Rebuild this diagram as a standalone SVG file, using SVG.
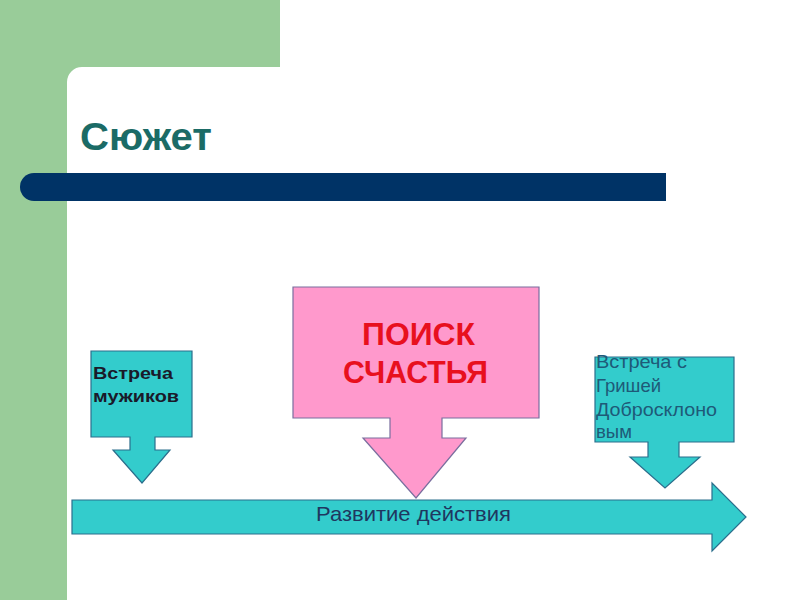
<svg xmlns="http://www.w3.org/2000/svg" width="800" height="600" viewBox="0 0 800 600">
<style>
.teal{fill:#33CCCC;stroke:#2B6E8C;stroke-width:1.2}
.pink{fill:#FF99CC;stroke:#7A6E9E;stroke-width:1.2}
.t{font-family:"Liberation Sans",Arial,sans-serif}
</style>
<rect width="800" height="600" fill="#fff"/>
<g id="background">
<path d="M0 0H280V67H82A15 15 0 0 0 67 82V600H0Z" fill="#99CC99"/>
<path d="M34 173H666V201H34A14 14 0 0 1 34 173Z" fill="#003366"/>
</g>
<g id="title"><text class="t" x="80" y="150" font-size="39" font-weight="bold" fill="#1B6B66" textLength="132" lengthAdjust="spacingAndGlyphs">Сюжет</text></g>
<g id="timeline">
<path class="teal" d="M72 500H712V483L746 517L712 551V534H72Z"/>
<text class="t" x="316" y="521" font-size="21" fill="#1F3760" textLength="195" lengthAdjust="spacingAndGlyphs">Развитие действия</text>
</g>
<g id="node-vstrecha">
<path class="teal" d="M91 351H192V437H155V450H170L142 483L113 450H130V437H91Z"/>
<text class="t" x="93" y="379" font-size="17" font-weight="bold" fill="#1A1A2A" textLength="80" lengthAdjust="spacingAndGlyphs">Встреча</text>
<text class="t" x="93" y="402" font-size="17" font-weight="bold" fill="#1A1A2A" textLength="86" lengthAdjust="spacingAndGlyphs">мужиков</text>
</g>
<g id="node-poisk">
<path class="pink" d="M293 287H539V418H442V438H466L416 498L363 438H390V418H293Z"/>
<text class="t" x="362" y="345" font-size="31" font-weight="bold" fill="#E8101E" textLength="113" lengthAdjust="spacingAndGlyphs">ПОИСК</text>
<text class="t" x="343" y="383" font-size="31" font-weight="bold" fill="#E8101E" textLength="145" lengthAdjust="spacingAndGlyphs">СЧАСТЬЯ</text>
</g>
<g id="node-grisha">
<path class="teal" d="M595 357H734V442H679V457H700L665 488L630 457H648V442H595Z"/>
<g class="t" font-size="18.5" fill="#1E5A78">
<text x="596" y="368" textLength="91" lengthAdjust="spacingAndGlyphs">Встреча с</text>
<text x="596" y="392">Гришей</text>
<text x="596" y="416" textLength="121" lengthAdjust="spacingAndGlyphs">Добросклоно</text>
<text x="596" y="438">вым</text>
</g>
</g>
</svg>
